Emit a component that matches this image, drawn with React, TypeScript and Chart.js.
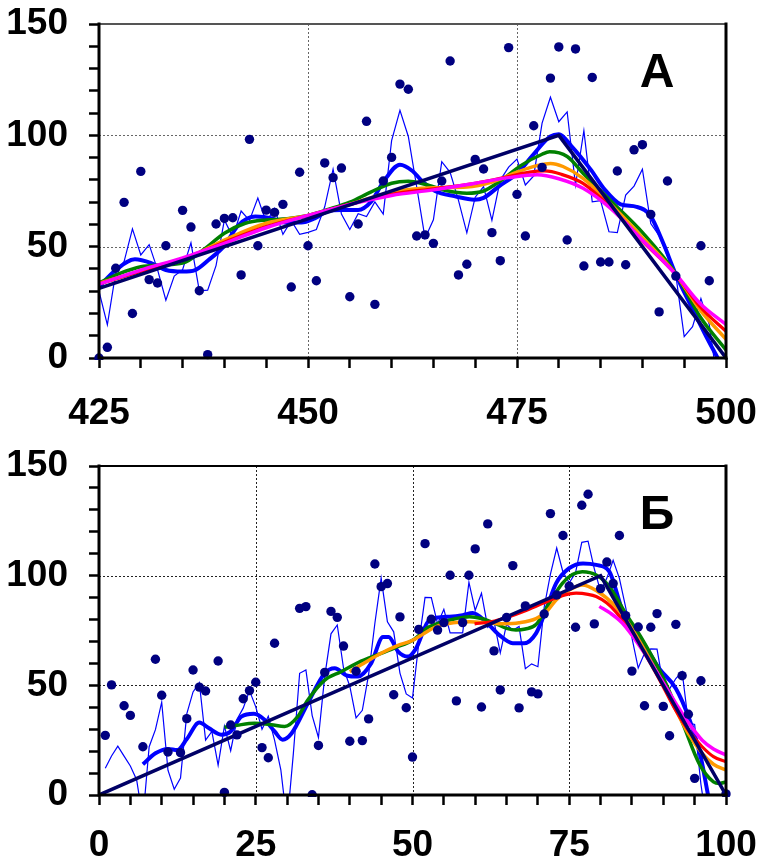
import React, { useEffect, useRef } from "react";
import { Chart, registerables } from "chart.js";
Chart.register(...registerables);

// ---------- Panel A ----------
const aDotX = [425,426,427,428,429,430,431,432,433,434,435,436,437,438,439,440,441,442,443,444,445,446,447,448,449,450,451,452,453,454,455,456,457,458,459,460,461,462,463,464,465,466,467,468,469,470,471,472,473,474,475,476,477,478,479,480,481,482,483,484,485,486,487,488,489,490,491,492,493,494,495,496,497,498,499,500];
const aDotY = [0,4.8,40.3,69.9,20,83.8,35.2,33.7,50.4,-6,66.3,58.8,30.2,1.5,60.2,62.7,63,37.3,98.2,50.4,66.4,65.4,69,31.9,83.4,50.4,34.7,87.6,81,85.3,27.5,60.2,106.3,24.1,79.5,90.1,123,120.7,54.8,55.3,51.5,79.5,133.4,37.3,42.1,89.2,84.9,56.3,43.7,139.4,73.5,54.8,104.3,85.6,125.7,139.7,53,138.8,41.3,126,43.1,43.1,84,41.9,93.5,95.8,64.5,20.7,79.5,36.8,-4,-4,50.4,34.7,-40,-30];
const aThinY = [30,14.9,38.3,43.3,58,46.3,50.9,39.7,26,36.8,39.7,51.7,30.2,30.5,41.5,62,54.3,66,61.8,71.8,61,67.2,55.5,61.7,55.5,56.4,57.7,67.9,84.8,64.7,57.7,64.8,63.5,70.1,64.6,97.6,111.2,99.5,76.9,53.8,62.1,88.2,83.4,70.8,56.2,72.2,77,61.8,79.9,85.7,89.3,77.7,81.8,105.5,117.1,106.1,110.5,77.7,102.1,70.1,70.7,56.7,56.3,73.2,77.2,84.8,60.4,55,45.7,37.2,9.6,14.1,26.7,15,-11.8,-20];
const aBlue: [number, number][] = [[425,32],[427,39.5],[429.3,44.3],[431.3,42.5],[433,39.5],[435,38.8],[436.5,39.5],[438.1,44],[439.9,50],[441.7,59.7],[443.7,63.5],[445.7,62.7],[447.2,60.8],[449.2,60.8],[450.8,62.7],[452.4,66],[454,66.5],[456,66.5],[457.5,70],[459,79],[461,86.8],[462.5,84],[463.5,80],[465.2,75],[467.6,72.6],[469.9,71.1],[471,71.9],[472.8,77],[475.1,83.2],[476.8,90.7],[479,99.5],[480,100.5],[481.5,95.2],[483.8,84.7],[485.5,75.6],[487.4,69],[489.3,67.9],[490.9,64.2],[492.5,51.5],[494,37.5],[496,22],[498,7],[499,0],[500,-8]];
const aGreen: [number, number][] = [[425,33.8],[427.5,38],[430,41],[432.5,41.8],[435,42.6],[437.5,48.6],[440,56],[442.5,60.5],[445,62],[447.5,62.5],[450,64],[452.5,66.8],[455,70],[457.5,74.5],[460,78.5],[462,79.4],[464,78],[466.5,75.2],[469,74],[471,75],[473,79.5],[475.5,86.5],[478,91.5],[478.9,92.6],[481,90.5],[482.9,83],[486.1,71],[490.1,56],[494,37.8],[496.9,18.5],[500,3.6]];
const aOrange: [number, number][] = [[425,33.5],[430,39],[435,44],[440,53],[445,60.5],[450,64],[455,69],[460,74.5],[465,76.5],[469,76.8],[472,79],[475,83.5],[477.5,86.5],[479,87.4],[480.5,86],[482.9,80.7],[486.1,69.5],[490.1,53.7],[494,37.5],[496.9,21.6],[500,8.4]];
const aRed: [number, number][] = [[425,33.3],[430,39],[435,44.5],[440,52],[445,59],[450,64],[455,69],[460,73.5],[465,76],[470,78.5],[474,81.5],[476.5,83.5],[478.3,84],[480.3,82.5],[482.9,78.4],[486.1,68],[490.1,52.2],[494,37.5],[496.9,23],[500,12]];
const aMagenta: [number, number][] = [[425,33.2],[430,39.5],[435,45],[440,51.5],[445,58.5],[450,64],[455,69],[460,73],[465,75.5],[470,78.5],[474,81],[477.4,82.3],[480,80.5],[482.9,76.2],[486.1,67.5],[490.1,52.5],[494,37.5],[496.9,24.5],[500,15]];
const aNavy: [number, number][] = [[425,31.25],[480,100],[500,0]];
const aXTicks = [425,430,435,440,445,450,455,460,465,470,475,480,485,490,495,500];
const aXLabels = [425,450,475,500];
const aXGrid = [450,475];

// ---------- Panel Б ----------
const bDotX = [0,1,2,3,4,5,6,7,8,9,10,11,12,13,14,15,16,17,18,19,20,21,22,23,24,25,26,27,28,29,30,31,32,33,34,35,36,37,38,39,40,41,42,43,44,45,46,47,48,49,50,51,52,53,54,55,56,57,58,59,60,61,62,63,64,65,66,67,68,69,70,71,72,73,74,75,76,77,78,79,80,81,82,83,84,85,86,87,88,89,90,91,92,93,94,95,96,97,98,99,100];
const bDotY = [-40.8,27.2,50.2,-24,40.7,36.3,-37.4,22,-17.9,61.9,45.5,19.6,-31.1,19.3,34.8,57,49.2,47.4,-21.6,61.1,1.2,31.9,27.4,43.9,47.6,51.4,21.6,17,69.2,-11,-23.6,-4.5,85.1,85.9,0.1,22.6,55.9,83.7,81,67.9,24.5,56.4,24.8,34.7,105.3,95,96.4,45.7,81.2,39.8,17.3,75.5,114.6,80.1,75.2,78.6,100.2,42.9,78.6,100.2,112.2,40.1,123.6,65.7,47.9,80.9,104.6,39.7,86.2,47,46.1,82.5,128.3,91.2,118.3,95.2,76.5,132.1,137.1,78,94.1,106.2,96.4,118.3,81.8,56.5,76.6,40.7,76.5,82.7,40.4,27,77.8,54.4,36.8,7.6,52.1,-45,-50,-40,0.5];
const bThinY = [12.2,17.8,22.3,17.7,13.2,7,-11.1,22,29.8,42.3,11.3,2.6,7.7,37,47,51.2,25,29,13.6,31.4,20.2,34.4,39.6,47.6,40.2,30,35.9,25,11.5,-13,19,55.5,57,36.2,26.2,54.1,73.5,77.5,57.8,49.6,35.2,38.6,54.9,78.3,98.9,79,74.4,55.6,46.1,44.2,69.1,90.1,90,78,84.7,73.9,73.9,73.9,97,84.2,92,76.5,79.1,64.8,77.8,75.1,76.8,57.6,59.8,58.5,85.6,100.7,112.6,101.6,96.7,101.3,115.2,115.7,103.1,92.8,98.9,107,98.8,85.5,71.6,57.9,64.6,66.6,66.5,50,48.4,53.1,56.3,32.9,32.2,4.9,-14.3,-45];
const bBlue: [number, number][] = [[7,14],[9,19],[11,21],[12.5,20.5],[14,25.5],[16,33],[17.5,30.5],[19.5,27.5],[21,29],[22.7,35.7],[24.7,37],[26.4,34.3],[28,29],[29.3,25.2],[30.7,28],[33.3,41.8],[36,55.5],[37.6,57.8],[39.5,54.5],[41.3,54],[43.4,60],[45.3,72],[46.2,72],[47.7,65.4],[49.3,63.1],[50.5,66.5],[52.7,79.8],[55.9,81.3],[58,82],[59.6,83],[61.7,79],[63.8,73],[66,69.2],[67.8,69.2],[69.7,73.7],[71.3,84.4],[72.9,96.5],[75,103.4],[77.2,105.6],[79.3,104.9],[81.4,101.8],[83.5,84],[86.7,70],[89.3,57.8],[92,48.6],[94.1,35],[95.9,18.2],[97.5,-5],[98.5,-15]];
const bGreen: [number, number][] = [[20,30.9],[22,31.8],[24.8,32.7],[27.5,32],[29.6,31.2],[31.7,35.7],[33.3,43.3],[36,52.4],[38.6,56.2],[41.8,61],[44.5,64],[47.1,67],[50.3,71],[52.5,76.5],[54.3,78.5],[57,80.5],[59.1,81.3],[61,80.5],[63,78.5],[65,76],[66.5,75.2],[68,75.7],[69.7,77.7],[71.8,87.4],[73.9,96.5],[75.5,100.5],[77.1,101.8],[79.3,100.3],[81.4,95],[84,82.8],[86.7,70.7],[89.9,54],[93.1,32.7],[95.7,14.4],[98,6],[99,5.3],[100,6]];
const bOrange: [number, number][] = [[40,56.2],[42.5,60.5],[45,64.6],[47.5,68],[50,70.5],[53.8,76.8],[56.5,78.5],[59.1,79],[62,78.5],[64.4,78.1],[67,78.5],[69.7,80.4],[71.5,84],[72.9,88.9],[75,93.5],[77.1,95.8],[79.3,93.2],[82.4,85.9],[84.5,78],[86.7,67.7],[89.5,53],[92,38.8],[94,28],[96.2,19],[98,14],[100,11.4]];
const bRed: [number, number][] = [[59.9,78],[62.5,79],[65.4,81.3],[68,84],[70.8,87.4],[73.5,90.5],[76.1,92],[78,91.5],[79.3,90.5],[81,87.5],[82.4,83.6],[84.5,76],[86.7,66.1],[89.5,52],[92,38.5],[94,29.5],[96.2,22],[98,17.5],[100,15.2]];
const bMagenta: [number, number][] = [[79.8,86],[81.5,83],[83.5,78.3],[86.7,66],[89.5,53.5],[92,41.8],[94,33],[96.2,25],[98,21],[100,18.2]];
const bNavy: [number, number][] = [[0,0],[80,100],[100,0]];
const bXTicks = [0,5,10,15,20,25,30,35,40,45,50,55,60,65,70,75,80,85,90,95,100];
const bXLabels = [0,25,50,75,100];
const bXGrid = [25,50,75];

// ---------- shared ----------
const yTicks = [0,10,20,30,40,50,60,70,80,90,100,110,120,130,140,150];
const yLabels = [0,50,100,150];
const yGrid = [50,100];

const FONT = '"Liberation Sans", Arial, Helvetica, sans-serif';

type PanelCfg = {
  dotX: number[]; dotY: number[]; thinX: number[]; thinY: number[];
  blue: [number, number][]; green: [number, number][]; orange: [number, number][];
  red: [number, number][]; magenta: [number, number][]; navy: [number, number][];
  xMin: number; xMax: number; xTicks: number[]; xLabels: number[]; xGrid: number[];
  label: string; padTop: number; xAxisH: number; xPad: number; gridColor: string; topColor: string;
};

const pts = (p: [number, number][]) => p.map(([x, y]) => ({ x, y }));
const zip = (xs: number[], ys: number[]) => ys.map((y, i) => ({ x: xs[i], y }));

const zeroPad = (s: any) => {
  s.paddingTop = 0; s.paddingBottom = 0; s.paddingLeft = 0; s.paddingRight = 0;
};

function makeConfig(c: PanelCfg): any {
  const smooth = (data: any, color: string, w: number, order: number) => ({
    data, borderColor: color, backgroundColor: color, borderWidth: w, pointRadius: 0,
    cubicInterpolationMode: "monotone", fill: false, order,
  });
  const framePlugin = {
    id: "frame",
    beforeDatasetsDraw(chart: any) {
      const { ctx, chartArea: a, scales } = chart;
      ctx.save();
      ctx.strokeStyle = c.gridColor;
      ctx.lineWidth = 1;
      ctx.setLineDash([2, 2]);
      for (const v of c.xGrid) {
        const px = Math.round(scales.x.getPixelForValue(v)) + 0.5;
        ctx.beginPath(); ctx.moveTo(px, a.top); ctx.lineTo(px, a.bottom); ctx.stroke();
      }
      for (const v of yGrid) {
        const py = Math.round(scales.y.getPixelForValue(v)) + 0.5;
        ctx.beginPath(); ctx.moveTo(a.left, py); ctx.lineTo(a.right, py); ctx.stroke();
      }
      ctx.restore();
    },
    afterDatasetsDraw(chart: any) {
      const { ctx, chartArea: a } = chart;
      ctx.save();
      ctx.setLineDash([]);
      ctx.lineCap = "square";
      ctx.strokeStyle = c.topColor; ctx.lineWidth = 2;
      ctx.beginPath(); ctx.moveTo(a.left, a.top); ctx.lineTo(a.right, a.top); ctx.stroke();
      ctx.strokeStyle = "#000"; ctx.lineWidth = 3;
      ctx.beginPath(); ctx.moveTo(a.right, a.top); ctx.lineTo(a.right, a.bottom); ctx.stroke();
      ctx.beginPath(); ctx.moveTo(a.left, a.top); ctx.lineTo(a.left, a.bottom); ctx.lineTo(a.right, a.bottom); ctx.stroke();
      ctx.fillStyle = "#000";
      ctx.font = `bold 48px ${FONT}`;
      ctx.textAlign = "center";
      ctx.textBaseline = "alphabetic";
      ctx.fillText(c.label, a.right - 69, a.top + 63);
      ctx.restore();
    },
  };
  return {
    type: "line",
    data: {
      datasets: [
        { data: zip(c.dotX, c.dotY), showLine: false, pointRadius: 4.7, pointBackgroundColor: "#000080", pointBorderWidth: 0, borderColor: "#000080", order: 0, clip: { left: 6, right: 6, top: 6, bottom: 2 } },
        { data: pts(c.navy), borderColor: "#000066", borderWidth: 3.5, pointRadius: 0, tension: 0, order: 1 },
        smooth(pts(c.magenta), "#ff00ff", 3.5, 2),
        smooth(pts(c.red), "#ff0000", 3.2, 3),
        smooth(pts(c.orange), "#ff9900", 3.5, 4),
        smooth(pts(c.green), "#008000", 3.5, 5),
        smooth(pts(c.blue), "#0000ff", 4, 6),
        { data: zip(c.thinX, c.thinY), borderColor: "#0000ff", borderWidth: 1.2, pointRadius: 0, tension: 0, order: 7 },
      ],
    },
    options: {
      animation: false,
      responsive: false,
      devicePixelRatio: 1,
      events: [],
      layout: { padding: { top: c.padTop, right: 33, left: 0, bottom: 0 } },
      plugins: { legend: { display: false }, tooltip: { enabled: false } },
      scales: {
        x: {
          type: "linear", min: c.xMin, max: c.xMax,
          afterFit: (s: any) => { s.height = c.xAxisH; zeroPad(s); },
          afterBuildTicks: (s: any) => { s.ticks = c.xTicks.map((v) => ({ value: v })); },
          ticks: {
            autoSkip: false, maxRotation: 0, padding: c.xPad, color: "#000",
            font: { family: FONT, size: 37, weight: "bold" },
            callback: (v: any) => (c.xLabels.includes(Number(v)) ? String(v) : ""),
          },
          grid: { drawOnChartArea: false, drawTicks: true, tickLength: 10, tickWidth: 2.5, tickColor: "#000", color: "#000" },
          border: { display: false },
        },
        y: {
          type: "linear", min: 0, max: 150,
          afterFit: (s: any) => { s.width = 99; zeroPad(s); },
          afterBuildTicks: (s: any) => { s.ticks = yTicks.map((v) => ({ value: v })); },
          ticks: {
            autoSkip: false, padding: 21, color: "#000",
            font: { family: FONT, size: 37, weight: "bold" },
            callback: (v: any) => (yLabels.includes(Number(v)) ? String(v) : ""),
          },
          grid: { drawOnChartArea: false, drawTicks: true, tickLength: 10, tickWidth: 2.5, tickColor: "#000", color: "#000" },
          border: { display: false },
        },
      },
    },
    plugins: [framePlugin],
  };
}

const panelA: PanelCfg = {
  dotX: aDotX, dotY: aDotY, thinX: aDotX, thinY: aThinY,
  blue: aBlue, green: aGreen, orange: aOrange, red: aRed, magenta: aMagenta, navy: aNavy,
  xMin: 425, xMax: 500, xTicks: aXTicks, xLabels: aXLabels, xGrid: aXGrid,
  label: "А", padTop: 24, xAxisH: 82, xPad: 24, gridColor: "#666", topColor: "#555",
};
const panelB: PanelCfg = {
  dotX: bDotX, dotY: bDotY, thinX: bDotX.slice(1, 99), thinY: bThinY,
  blue: bBlue, green: bGreen, orange: bOrange, red: bRed, magenta: bMagenta, navy: bNavy,
  xMin: 0, xMax: 100, xTicks: bXTicks, xLabels: bXLabels, xGrid: bXGrid,
  label: "Б", padTop: 26, xAxisH: 66, xPad: 19, gridColor: "#222", topColor: "#000",
};

function Panel({ cfg, top, height }: { cfg: PanelCfg; top: number; height: number }) {
  const ref = useRef<HTMLCanvasElement>(null);
  useEffect(() => {
    const chart = new Chart(ref.current as HTMLCanvasElement, makeConfig(cfg));
    return () => chart.destroy();
  }, [cfg]);
  return (
    <canvas
      ref={ref}
      width={759}
      height={height}
      style={{ position: "absolute", left: 0, top, width: 759, height, display: "block" }}
    />
  );
}

export default function App() {
  return (
    <div style={{ position: "absolute", left: 0, top: 0, width: 759, height: 861, background: "#fff", overflow: "hidden" }}>
      <Panel cfg={panelA} top={0} height={440} />
      <Panel cfg={panelB} top={440} height={421} />
    </div>
  );
}
